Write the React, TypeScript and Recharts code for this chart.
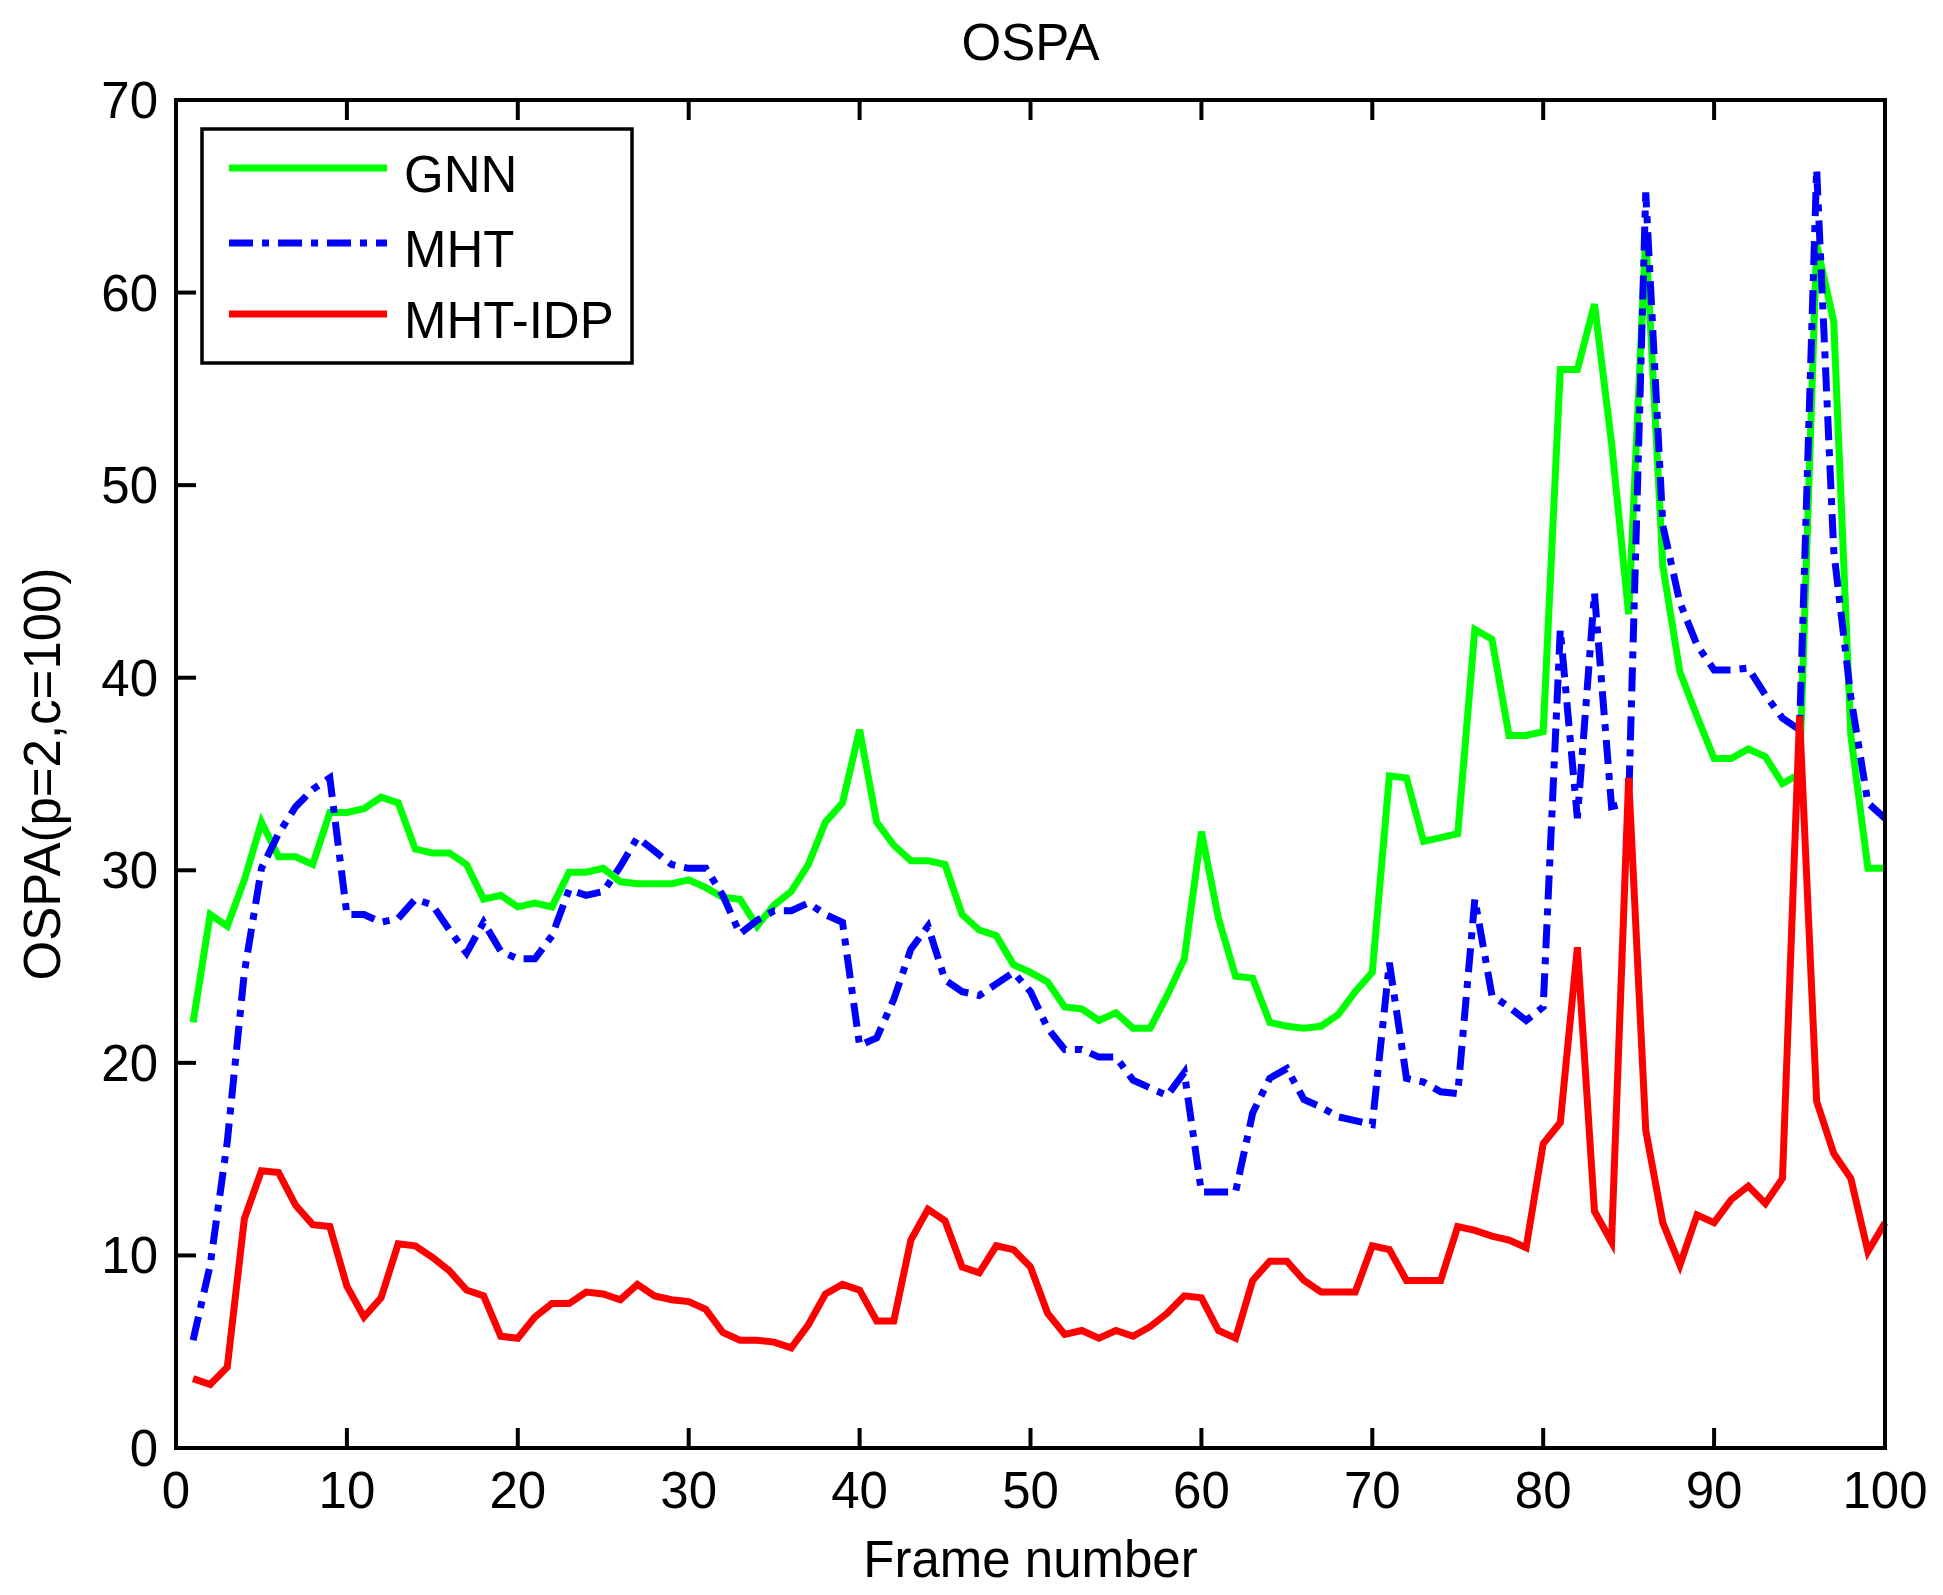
import { Legend, Line, LineChart, XAxis, YAxis } from "recharts";

const frames = Array.from({ length: 100 }, (_, i) => i + 1);

const gnn = [
	22.1, 27.7, 27.1, 29.5, 32.5, 30.7, 30.7, 30.3, 33.0, 33.0,
	33.2, 33.8, 33.5, 31.1, 30.9, 30.9, 30.3, 28.5, 28.7, 28.1,
	28.3, 28.1, 29.9, 29.9, 30.1, 29.4, 29.3, 29.3, 29.3, 29.5,
	29.1, 28.6, 28.5, 27.1, 28.2, 28.9, 30.3, 32.5, 33.5, 37.3,
	32.5, 31.3, 30.5, 30.5, 30.3, 27.7, 26.9, 26.6, 25.1, 24.7,
	24.2, 22.9, 22.8, 22.2, 22.6, 21.8, 21.8, 23.5, 25.4, 32.0,
	27.5, 24.5, 24.4, 22.1, 21.9, 21.8, 21.9, 22.5, 23.7, 24.7,
	34.9, 34.8, 31.5, 31.7, 31.9, 42.5, 42.0, 37.0, 37.0, 37.2,
	56.0, 56.0, 59.4, 52.2, 43.3, 63.0, 45.8, 40.3, 38.0, 35.8,
	35.8, 36.3, 35.9, 34.5, 35.0, 62.5, 58.5, 37.0, 30.1, 30.1,
];

const mht = [
	5.6, 9.5, 15.9, 24.7, 30.1, 31.9, 33.3, 34.2, 34.8, 27.7,
	27.7, 27.3, 27.5, 28.5, 28.2, 26.9, 25.7, 27.3, 25.8, 25.4,
	25.4, 26.6, 29.0, 28.7, 28.9, 30.2, 31.7, 31.0, 30.3, 30.1,
	30.1, 28.7, 26.7, 27.4, 27.9, 27.9, 28.3, 27.7, 27.3, 20.9,
	21.3, 23.3, 25.9, 27.1, 24.3, 23.7, 23.5, 24.1, 24.7, 23.7,
	21.8, 20.7, 20.7, 20.3, 20.3, 19.1, 18.7, 18.3, 19.5, 13.3,
	13.3, 13.3, 17.4, 19.2, 19.7, 18.1, 17.7, 17.2, 17.0, 16.8,
	25.2, 19.2, 19.0, 18.5, 18.4, 28.5, 23.5, 22.9, 22.2, 22.9,
	42.5, 32.7, 44.4, 33.3, 33.5, 65.2, 47.9, 43.9, 41.7, 40.4,
	40.4, 40.5, 39.1, 37.9, 37.3, 66.4, 46.6, 39.0, 33.5, 32.7,
];

const mhtIdp = [
	3.6, 3.3, 4.2, 11.9, 14.4, 14.3, 12.6, 11.6, 11.5, 8.4,
	6.8, 7.8, 10.6, 10.5, 9.9, 9.2, 8.2, 7.9, 5.8, 5.7,
	6.8, 7.5, 7.5, 8.1, 8.0, 7.7, 8.5, 7.9, 7.7, 7.6,
	7.2, 6.0, 5.6, 5.6, 5.5, 5.2, 6.4, 8.0, 8.5, 8.2,
	6.6, 6.6, 10.8, 12.4, 11.8, 9.4, 9.1, 10.5, 10.3, 9.4,
	7.0, 5.9, 6.1, 5.7, 6.1, 5.8, 6.3, 7.0, 7.9, 7.8,
	6.1, 5.7, 8.7, 9.7, 9.7, 8.7, 8.1, 8.1, 8.1, 10.5,
	10.3, 8.7, 8.7, 8.7, 11.5, 11.3, 11.0, 10.8, 10.4, 15.8,
	16.9, 26.0, 12.3, 10.7, 34.8, 16.5, 11.7, 9.5, 12.1, 11.7,
	12.9, 13.6, 12.7, 14.0, 38.0, 18.0, 15.3, 14.0, 10.2, 11.7,
];

const xTicks = [0, 10, 20, 30, 40, 50, 60, 70, 80, 90, 100];
const yTicks = [0, 10, 20, 30, 40, 50, 60, 70];

const series = [
	{ key: "gnn", name: "GNN", color: "#00ff00", dash: undefined },
	{ key: "mht", name: "MHT", color: "#0000ff", dash: "24 9 7 9" },
	{ key: "mhtIdp", name: "MHT-IDP", color: "#ff0000", dash: undefined },
];

const data = frames.map((frame, i) => ({
	frame,
	gnn: gnn[i],
	mht: mht[i],
	mhtIdp: mhtIdp[i],
}));

const FONT = "'Liberation Sans', Arial, Helvetica, sans-serif";
const FONT_SIZE = 51;
const AXIS_W = 4;
const TICK_LEN = 20;
const LINE_W = 7;

function BottomTick({ x, y, payload }: any) {
	return (
		<g>
			<line x1={x} x2={x} y1={y} y2={y - TICK_LEN} stroke="#000" strokeWidth={AXIS_W} />
			<text x={x} y={y + 60} textAnchor="middle" fontSize={FONT_SIZE} fontFamily={FONT} fill="#000">
				{payload.value}
			</text>
		</g>
	);
}

function TopTick({ x, y }: any) {
	return <line x1={x} x2={x} y1={y} y2={y + TICK_LEN} stroke="#000" strokeWidth={AXIS_W} />;
}

function LeftTick({ x, y, payload }: any) {
	return (
		<g>
			<line x1={x} x2={x + TICK_LEN} y1={y} y2={y} stroke="#000" strokeWidth={AXIS_W} />
			<text x={x - 18} y={y + 18} textAnchor="end" fontSize={FONT_SIZE} fontFamily={FONT} fill="#000">
				{payload.value}
			</text>
		</g>
	);
}

function RightTick({ x, y }: any) {
	return <line x1={x} x2={x - TICK_LEN} y1={y} y2={y} stroke="#000" strokeWidth={AXIS_W} />;
}

function OspaLegend() {
	const rows = [41, 116, 187];
	return (
		<svg width={434} height={238} style={{ display: "block" }}>
			<rect x={2} y={2} width={430} height={234} fill="#fff" stroke="#000" strokeWidth={3.5} />
			{series.map((s, i) => (
				<g key={s.key}>
					<line
						x1={29}
						x2={187}
						y1={rows[i]}
						y2={rows[i]}
						stroke={s.color}
						strokeWidth={7}
						strokeDasharray={s.dash}
					/>
					<text x={204} y={rows[i] + 24} fontSize={FONT_SIZE} fontFamily={FONT} fill="#000">
						{s.name}
					</text>
				</g>
			))}
		</svg>
	);
}

export default function App() {
	return (
		<div style={{ position: "absolute", left: 0, top: 0, background: "#fff" }}>
			<LineChart width={1943} height={1595} data={data} margin={{ top: 99, right: 57, bottom: 87, left: 96 }}>
				<XAxis
					dataKey="frame"
					type="number"
					domain={[0, 100]}
					ticks={xTicks}
					interval={0}
					height={60}
					tickSize={0}
					tickMargin={0}
					tickLine={false}
					axisLine={{ stroke: "#000", strokeWidth: AXIS_W, strokeLinecap: "square" }}
					tick={<BottomTick />}
					label={{
						content: ({ viewBox }: any) => (
							<text
								x={viewBox.x + viewBox.width / 2}
								y={viewBox.y + 129}
								textAnchor="middle"
								fontSize={FONT_SIZE}
								fontFamily={FONT}
								fill="#000"
							>
								Frame number
							</text>
						),
					}}
				/>
				<XAxis
					xAxisId="top"
					dataKey="frame"
					type="number"
					orientation="top"
					domain={[0, 100]}
					ticks={xTicks}
					interval={0}
					height={1}
					tickSize={0}
					tickMargin={0}
					tickLine={false}
					axisLine={{ stroke: "#000", strokeWidth: AXIS_W, strokeLinecap: "square" }}
					tick={<TopTick />}
					label={{
						content: ({ viewBox }: any) => (
							<text
								x={viewBox.x + viewBox.width / 2}
								y={viewBox.y - 39}
								textAnchor="middle"
								fontSize={FONT_SIZE}
								fontFamily={FONT}
								fill="#000"
							>
								OSPA
							</text>
						),
					}}
				/>
				<YAxis
					domain={[0, 70]}
					ticks={yTicks}
					interval={0}
					width={80}
					tickSize={0}
					tickMargin={0}
					tickLine={false}
					axisLine={{ stroke: "#000", strokeWidth: AXIS_W, strokeLinecap: "square" }}
					tick={<LeftTick />}
					label={{
						content: ({ viewBox }: any) => {
							const cx = 60;
							const cy = viewBox.y + viewBox.height / 2;
							return (
								<text
									x={cx}
									y={cy}
									transform={`rotate(-90 ${cx} ${cy})`}
									textAnchor="middle"
									fontSize={FONT_SIZE}
									fontFamily={FONT}
									fill="#000"
								>
									OSPA(p=2,c=100)
								</text>
							);
						},
					}}
				/>
				<YAxis
					yAxisId="right"
					orientation="right"
					domain={[0, 70]}
					ticks={yTicks}
					interval={0}
					width={1}
					tickSize={0}
					tickMargin={0}
					tickLine={false}
					axisLine={{ stroke: "#000", strokeWidth: AXIS_W, strokeLinecap: "square" }}
					tick={<RightTick />}
				/>
				<Legend
					layout="vertical"
					align="center"
					verticalAlign="middle"
					content={<OspaLegend />}
					wrapperStyle={{ left: 200, top: 127, width: 434, height: 238, margin: 0 }}
				/>
				{series.map((s) => (
					<Line
						key={s.key}
						type="linear"
						dataKey={s.key}
						name={s.name}
						stroke={s.color}
						strokeWidth={LINE_W}
						strokeDasharray={s.dash}
						dot={false}
						activeDot={false}
						isAnimationActive={false}
					/>
				))}
			</LineChart>
		</div>
	);
}
